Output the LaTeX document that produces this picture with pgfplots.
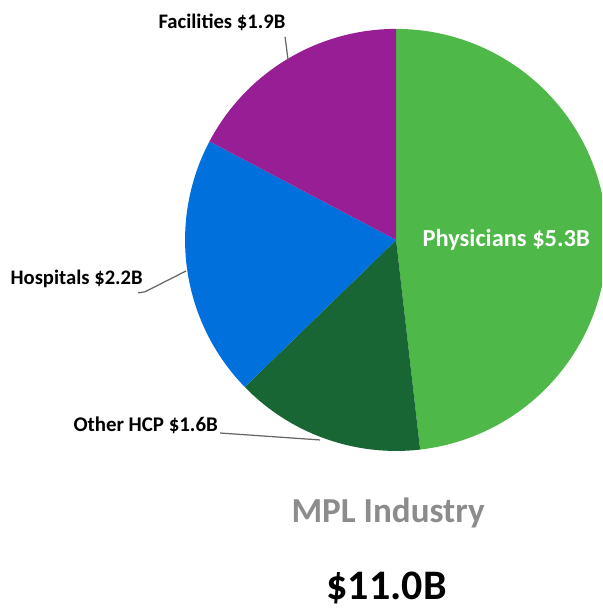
\documentclass[border=0pt]{standalone}
\usepackage{pgfplots}
\pgfplotsset{compat=1.18}
\usepackage{fontspec}
\setmainfont{Carlito}
\definecolor{cPhys}{RGB}{78,184,72}
\definecolor{cOther}{RGB}{24,102,52}
\definecolor{cHosp}{RGB}{0,112,221}
\definecolor{cFac}{RGB}{152,30,150}
\definecolor{cGrayT}{RGB}{140,140,140}
\begin{document}
\begin{tikzpicture}
% slice values ($B)
\pgfmathsetmacro{\vPhys}{5.3}
\pgfmathsetmacro{\vOther}{1.6}
\pgfmathsetmacro{\vHosp}{2.2}
\pgfmathsetmacro{\vFac}{1.9}
\pgfmathsetmacro{\vTot}{\vPhys+\vOther+\vHosp+\vFac}
\pgfmathsetmacro{\aA}{90}
\pgfmathsetmacro{\aB}{\aA-360*\vPhys/\vTot}
\pgfmathsetmacro{\aC}{\aB-360*\vOther/\vTot}
\pgfmathsetmacro{\aD}{\aC-360*\vHosp/\vTot}
\pgfmathsetmacro{\aE}{\aD-360*\vFac/\vTot}
\begin{axis}[
  hide axis, x=3cm, y=3cm,
  xmin=-1.877, xmax=0.976, ymin=-1.749, ymax=1.137,
  clip=true,
  samples=120, variable=\t,
]
\addplot[fill=cPhys, draw=none, domain=\aB:\aA] ({cos(t)},{sin(t)}) -- (axis cs:0,0) -- cycle;
\addplot[fill=cOther, draw=none, domain=\aC:\aB] ({cos(t)},{sin(t)}) -- (axis cs:0,0) -- cycle;
\addplot[fill=cHosp, draw=none, domain=\aD:\aC] ({cos(t)},{sin(t)}) -- (axis cs:0,0) -- cycle;
\addplot[fill=cFac, draw=none, domain=\aE:\aD] ({cos(t)},{sin(t)}) -- (axis cs:0,0) -- cycle;
% leader lines
\addplot[gray!80!black, line width=0.5pt] coordinates {(-0.526,0.962) (-0.512,0.853)};
\addplot[gray!80!black, line width=0.5pt] coordinates {(-1.223,-0.251) (-1.190,-0.246) (-0.995,-0.147)};
\addplot[gray!80!black, line width=0.5pt] coordinates {(-0.834,-0.915) (-0.360,-0.948)};
% labels
\node[anchor=base west, inner sep=0pt, font=\bfseries\fontsize{8.35}{10}\selectfont] at (axis cs:-1.128,1.0) {Facilities \$1.9B};
\node[anchor=base west, inner sep=0pt, font=\bfseries\fontsize{8.35}{10}\selectfont] at (axis cs:-1.829,-0.213) {Hospitals \$2.2B};
\node[anchor=base west, inner sep=0pt, font=\bfseries\fontsize{8.45}{10}\selectfont] at (axis cs:-1.531,-0.910) {Other HCP \$1.6B};
\node[anchor=base west, inner sep=0pt, text=white, font=\bfseries\fontsize{9.9}{12}\selectfont] at (axis cs:0.123,-0.033) {Physicians \$5.3B};
\node[anchor=base, inner sep=0pt, text=cGrayT, font=\bfseries\fontsize{14.2}{17}\selectfont] at (axis cs:-0.038,-1.341) {MPL Industry};
\node[anchor=base, inner sep=0pt, font=\bfseries\fontsize{17}{20}\selectfont] at (axis cs:-0.045,-1.706) {\$11.0B};
\end{axis}
\pgfresetboundingbox
\useasboundingbox (current axis.south west) rectangle (current axis.north east);
\end{tikzpicture}
\end{document}
